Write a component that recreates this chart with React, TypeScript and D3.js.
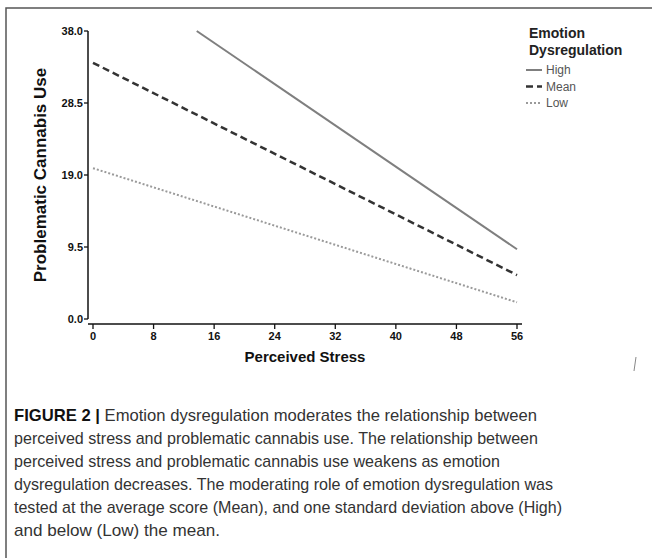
import React from 'react';
import * as d3 from 'd3';

// values (Perceived Stress -> Problematic Cannabis Use)
const levels = ['High', 'Mean', 'Low'];
const stressHigh = [13.7, 56];
const useHigh = [38.0, 9.2];
const stressMean = [0, 56];
const useMean = [33.8, 5.8];
const stressLow = [0, 56];
const useLow = [19.9, 2.2];
const xTicks = [0, 8, 16, 24, 32, 40, 48, 56];
const yTicks = [0, 9.5, 19, 28.5, 38];

const caption = [
  'perceived stress and problematic cannabis use. The relationship between',
  'perceived stress and problematic cannabis use weakens as emotion',
  'dysregulation decreases. The moderating role of emotion dysregulation was',
  'tested at the average score (Mean), and one standard deviation above (High)',
  'and below (Low) the mean.',
];
// approximate rendered widths of the caption lines in the reference
const captionWidths = [523, 524, 486, 539, 548, 206];

const styles: Record<string, { stroke: string; width: number; dash: string | null }> = {
  High: { stroke: '#7f7f7f', width: 2, dash: null },
  Mean: { stroke: '#333', width: 2.5, dash: '7,4' },
  Low: { stroke: '#9a9a9a', width: 2, dash: '2,2' },
};

const App = () => {
  const width = 652;
  const height = 558;
  const x = d3.scaleLinear().domain([0, 56]).range([93, 517]);
  const y = d3.scaleLinear().domain([0, 38]).range([319, 31]);
  const line = d3.line<[number, number]>().x(d => x(d[0])).y(d => y(d[1]));

  const series = [
    { key: 'High', pts: d3.zip(stressHigh, useHigh) as [number, number][] },
    { key: 'Mean', pts: d3.zip(stressMean, useMean) as [number, number][] },
    { key: 'Low', pts: d3.zip(stressLow, useLow) as [number, number][] },
  ];

  const font = '"Liberation Sans", Arial, sans-serif';
  const capY = 421;
  const capStep = 23;

  return (
    <svg width={width} height={height} style={{ position: 'absolute', left: 0, top: 0, background: '#fff' }} fontFamily={font}>
      <rect x={0} y={0} width={width} height={height} fill="#fff" />
      {/* frame */}
      <path d={`M6,${height} V8 H${width}`} fill="none" stroke="#555" strokeWidth={1.5} />
      {/* small scan mark at right */}
      <path d="M636,357 L634,371" stroke="#888" strokeWidth={1} />

      {/* axes */}
      <line x1={88} x2={88} y1={y(38)} y2={y(0)} stroke="#111" strokeWidth={1.5} />
      <line x1={88} x2={522} y1={324} y2={324} stroke="#111" strokeWidth={1.5} />
      {yTicks.map(t => (
        <g key={t}>
          <line x1={84} x2={88} y1={y(t)} y2={y(t)} stroke="#111" strokeWidth={1.3} />
          <text x={83} y={y(t)} dy="0.35em" textAnchor="end" fontSize={11} fontWeight="bold" fill="#111">
            {d3.format('.1f')(t)}
          </text>
        </g>
      ))}
      {xTicks.map(t => (
        <g key={t}>
          <line x1={x(t)} x2={x(t)} y1={324} y2={329} stroke="#111" strokeWidth={1.3} />
          <text x={x(t)} y={340} textAnchor="middle" fontSize={11} fontWeight="bold" fill="#111">
            {t}
          </text>
        </g>
      ))}
      <text x={(x(0) + x(56)) / 2} y={362} textAnchor="middle" fontSize={15} fontWeight="bold" fill="#111">
        Perceived Stress
      </text>
      <text transform={`translate(46,${(y(0) + y(38)) / 2}) rotate(-90)`} textAnchor="middle" fontSize={17} fontWeight="bold" fill="#111">
        Problematic Cannabis Use
      </text>

      {/* lines */}
      {series.map(s => (
        <path key={s.key} d={line(s.pts) || ''} fill="none" stroke={styles[s.key].stroke}
          strokeWidth={styles[s.key].width} strokeDasharray={styles[s.key].dash || undefined} />
      ))}

      {/* legend */}
      <text x={529} y={38} fontSize={14} fontWeight="bold" fill="#222">Emotion</text>
      <text x={529} y={55} fontSize={14} fontWeight="bold" fill="#222">Dysregulation</text>
      {levels.map((k, i) => (
        <g key={k} transform={`translate(526,${70 + i * 16.5})`}>
          <line x1={0} x2={16} y1={0} y2={0} stroke={styles[k].stroke} strokeWidth={styles[k].width}
            strokeDasharray={styles[k].dash || undefined} />
          <text x={20} y={0} dy="0.35em" fontSize={12} fill="#555">{k}</text>
        </g>
      ))}

      {/* caption */}
      <text x={14} y={capY} fontSize={17} fill="#333" textLength={captionWidths[0]} lengthAdjust="spacingAndGlyphs">
        <tspan fontWeight="bold" fill="#111">FIGURE 2 | </tspan>
        Emotion dysregulation moderates the relationship between
      </text>
      {caption.map((c, i) => (
        <text key={i} x={14} y={capY + (i + 1) * capStep} fontSize={17} fill="#333"
          textLength={captionWidths[i + 1]} lengthAdjust="spacingAndGlyphs">{c}</text>
      ))}
    </svg>
  );
};

export default App;
